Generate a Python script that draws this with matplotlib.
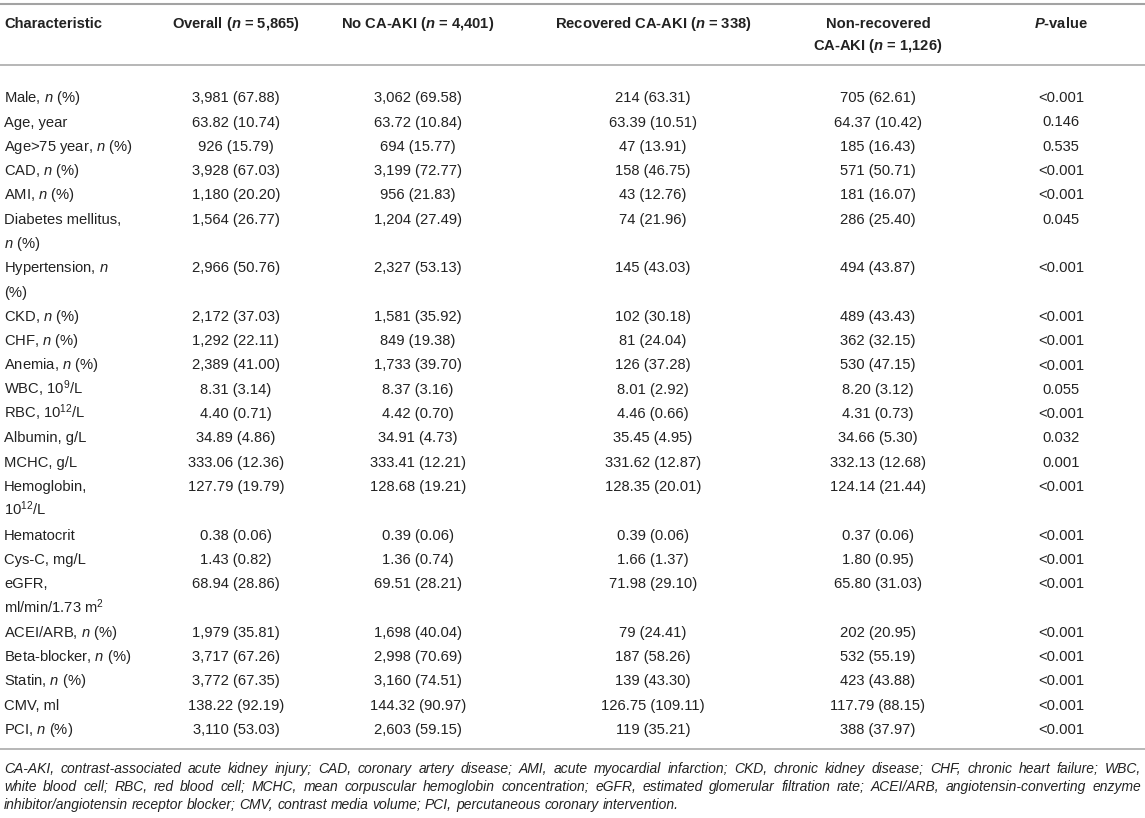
import matplotlib
matplotlib.use("Agg")
import matplotlib.pyplot as plt

plt.rcParams['font.family'] = ['Liberation Sans', 'DejaVu Sans']
plt.rcParams['mathtext.fontset'] = 'custom'
plt.rcParams['mathtext.rm'] = 'Liberation Sans'
plt.rcParams['mathtext.it'] = 'Liberation Sans:italic'
plt.rcParams['mathtext.bf'] = 'Liberation Sans:bold'
plt.rcParams['mathtext.bfit'] = 'Liberation Sans:italic:bold'

# ---------------- data ----------------
headers = ["Characteristic",
           r"Overall ($\mathbfit{n}$ = 5,865)",
           r"No CA-AKI ($\mathbfit{n}$ = 4,401)",
           r"Recovered CA-AKI ($\mathbfit{n}$ = 338)",
           "Non-recovered\n" + r"CA-AKI ($\mathbfit{n}$ = 1,126)",
           r"$\mathbfit{P}$-value"]

characteristics = [
    r"Male, $\mathit{n}$ (%)",
    "Age, year",
    r"Age>75 year, $\mathit{n}$ (%)",
    r"CAD, $\mathit{n}$ (%)",
    r"AMI, $\mathit{n}$ (%)",
    "Diabetes mellitus,\n" + r"$\mathit{n}$ (%)",
    r"Hypertension, $\mathit{n}$" + "\n(%)",
    r"CKD, $\mathit{n}$ (%)",
    r"CHF, $\mathit{n}$ (%)",
    r"Anemia, $\mathit{n}$ (%)",
    r"WBC, 10$^{9}$/L",
    r"RBC, 10$^{12}$/L",
    "Albumin, g/L",
    "MCHC, g/L",
    "Hemoglobin,\n" + r"10$^{12}$/L",
    "Hematocrit",
    "Cys-C, mg/L",
    "eGFR,\n" + r"ml/min/1.73 m$^{2}$",
    r"ACEI/ARB, $\mathit{n}$ (%)",
    r"Beta-blocker, $\mathit{n}$ (%)",
    r"Statin, $\mathit{n}$ (%)",
    "CMV, ml",
    r"PCI, $\mathit{n}$ (%)",
]

overall = ["3,981 (67.88)", "63.82 (10.74)", "926 (15.79)", "3,928 (67.03)",
           "1,180 (20.20)", "1,564 (26.77)", "2,966 (50.76)", "2,172 (37.03)",
           "1,292 (22.11)", "2,389 (41.00)", "8.31 (3.14)", "4.40 (0.71)",
           "34.89 (4.86)", "333.06 (12.36)", "127.79 (19.79)", "0.38 (0.06)",
           "1.43 (0.82)", "68.94 (28.86)", "1,979 (35.81)", "3,717 (67.26)",
           "3,772 (67.35)", "138.22 (92.19)", "3,110 (53.03)"]

no_ca_aki = ["3,062 (69.58)", "63.72 (10.84)", "694 (15.77)", "3,199 (72.77)",
             "956 (21.83)", "1,204 (27.49)", "2,327 (53.13)", "1,581 (35.92)",
             "849 (19.38)", "1,733 (39.70)", "8.37 (3.16)", "4.42 (0.70)",
             "34.91 (4.73)", "333.41 (12.21)", "128.68 (19.21)", "0.39 (0.06)",
             "1.36 (0.74)", "69.51 (28.21)", "1,698 (40.04)", "2,998 (70.69)",
             "3,160 (74.51)", "144.32 (90.97)", "2,603 (59.15)"]

recovered = ["214 (63.31)", "63.39 (10.51)", "47 (13.91)", "158 (46.75)",
             "43 (12.76)", "74 (21.96)", "145 (43.03)", "102 (30.18)",
             "81 (24.04)", "126 (37.28)", "8.01 (2.92)", "4.46 (0.66)",
             "35.45 (4.95)", "331.62 (12.87)", "128.35 (20.01)", "0.39 (0.06)",
             "1.66 (1.37)", "71.98 (29.10)", "79 (24.41)", "187 (58.26)",
             "139 (43.30)", "126.75 (109.11)", "119 (35.21)"]

non_recovered = ["705 (62.61)", "64.37 (10.42)", "185 (16.43)", "571 (50.71)",
                 "181 (16.07)", "286 (25.40)", "494 (43.87)", "489 (43.43)",
                 "362 (32.15)", "530 (47.15)", "8.20 (3.12)", "4.31 (0.73)",
                 "34.66 (5.30)", "332.13 (12.68)", "124.14 (21.44)", "0.37 (0.06)",
                 "1.80 (0.95)", "65.80 (31.03)", "202 (20.95)", "532 (55.19)",
                 "423 (43.88)", "117.79 (88.15)", "388 (37.97)"]

p_values = ["<0.001", "0.146", "0.535", "<0.001", "<0.001", "0.045", "<0.001",
            "<0.001", "<0.001", "<0.001", "0.055", "<0.001", "0.032", "0.001",
            "<0.001", "<0.001", "<0.001", "<0.001", "<0.001", "<0.001",
            "<0.001", "<0.001", "<0.001"]

footnote_lines = [
    "CA-AKI, contrast-associated acute kidney injury; CAD, coronary artery disease; AMI, acute myocardial infarction; CKD, chronic kidney disease; CHF, chronic heart failure; WBC,",
    "white blood cell; RBC, red blood cell; MCHC, mean corpuscular hemoglobin concentration; eGFR, estimated glomerular filtration rate; ACEI/ARB, angiotensin-converting enzyme",
    "inhibitor/angiotensin receptor blocker; CMV, contrast media volume; PCI, percutaneous coronary intervention.",
]

# ---------------- layout ----------------
W, H = 1145, 818
fig = plt.figure(figsize=(W / 100, H / 100), dpi=100)
ax = fig.add_axes([0, 0, 1, 1])
ax.set_xlim(0, W)
ax.set_ylim(H, 0)
ax.axis('off')

TXT = '#222222'
RULE = '#a3a3a3'
FS = 10.6
left_x = 4
col_x = [236, 418, 653, 878, 1061]
pitch = 24.3
base_off = 5.2

# rules
ax.plot([0, W], [4, 4], color=RULE, lw=1.5, solid_capstyle='butt')
ax.plot([0, W], [65, 65], color=RULE, lw=1.1, solid_capstyle='butt')
ax.plot([0, W], [749, 749], color=RULE, lw=1.1, solid_capstyle='butt')

# header
hy = 23
ax.text(left_x, hy + base_off, headers[0], ha='left', va='baseline',
        fontsize=FS, fontweight='bold', color=TXT)
for x, htxt in zip(col_x, headers[1:]):
    for k, part in enumerate(htxt.split('\n')):
        ax.text(x, hy + k * 22 + base_off, part, ha='center', va='baseline',
                fontsize=FS, fontweight='bold', color=TXT)

# body
columns = [overall, no_ca_aki, recovered, non_recovered, p_values]
y0 = 97
line = 0
for i, label in enumerate(characteristics):
    parts = label.split('\n')
    y = y0 + line * pitch
    for k, part in enumerate(parts):
        ax.text(left_x, y + k * pitch + base_off, part, ha='left', va='baseline',
                fontsize=FS, color=TXT)
    for x, col in zip(col_x, columns):
        ax.text(x, y + base_off, col[i], ha='center', va='baseline',
                fontsize=FS, color=TXT)
    line += len(parts)

# footnote (justified)
renderer = fig.canvas.get_renderer()
foot_y = [768, 786.5, 804]
x_right = 1141
FFS = 10.0

def words_width(words, size):
    objs = [ax.text(0, 0, w, fontsize=size, style='italic') for w in words]
    ws = [o.get_window_extent(renderer).width for o in objs]
    for o in objs:
        o.remove()
    return ws

space = 0.278 * FFS * 100 / 72
for j, txt in enumerate(footnote_lines):
    words = txt.split(' ')
    ws = words_width(words, FFS)
    if j < len(footnote_lines) - 1:
        gap = (x_right - left_x - sum(ws)) / (len(words) - 1)
        gap = max(gap, space * 0.6)
    else:
        gap = space
    x = left_x
    for w, wd in zip(words, ws):
        ax.text(x, foot_y[j] + 4.8, w, ha='left', va='baseline', fontsize=FFS,
                style='italic', color=TXT)
        x += wd + gap

fig.savefig('out.png', dpi=100)
